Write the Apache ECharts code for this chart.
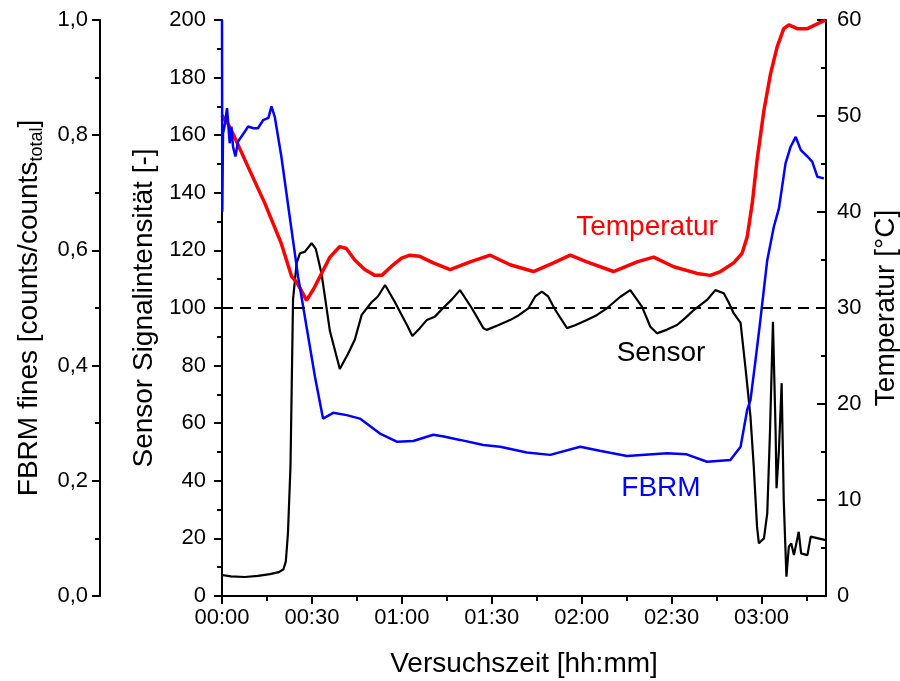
<!DOCTYPE html>
<html>
<head>
<meta charset="utf-8">
<script src="https://cdn.jsdelivr.net/npm/echarts@6/dist/echarts.min.js"></script>
<style>html,body{margin:0;padding:0;background:#fff}#c{width:900px;height:681px}</style>
</head>
<body>
<div id="c"></div>
<script>
// time in minutes since start
const sensorTime = [0,3,7.6,12,16,19,20.5,21.3,22.0,22.85,23.7,24.9,26,27.6,29.9,31.3,33.2,36,39.3,42,44.3,46.6,49.9,52,54.4,57.7,62.0,63.5,66,68.3,71,73.7,76.7,79.4,83.3,87.2,88.3,92.1,96.1,99,102.2,104.5,106.7,108.8,111.2,115.1,117.8,121.7,125,128.4,132.9,136.2,140.1,142.9,145.1,148.5,151.8,154.5,157.4,161.8,164.6,167.4,169,170.7,173.0,174.6,176.3,177.4,178.5,179.1,180.8,181.9,182.8,183.8,184.7,185.0,185.8,186.7,187.4,188.3,189.1,189.9,190.8,192.4,193.2,195.3,196.4,201.4];
const sensorValues = [7.3,6.8,6.6,7.0,7.6,8.3,9.3,12,21.8,45,103,115.6,119,119.5,122.5,120.5,112,92,78.8,84,89,97.6,102,104,108,102,93.5,90.3,93,95.8,97,99.9,103,106.2,100,93,92.4,94,95.8,97.5,99.9,104,105.7,104,99.3,93,94,95.8,97.5,99.9,103.9,106.2,100.5,93.5,91.2,92.5,94.1,96.5,99.3,102.8,106.2,105.1,102,98.2,94.8,79.6,62.3,44.9,24,18.3,20,28.7,56.5,95.2,56.6,37.4,50.7,73.9,33.3,6.7,17.1,18.3,14.2,22.3,14.8,14.2,20.6,19.4];

const tempTime = [0,0.9,2,4.2,8.7,14.3,19.8,23.2,24.9,26.5,28.2,30.6,33.2,36,39.3,41.5,44.3,47.6,51,53.3,56.4,59.9,62.7,65.8,70.5,76.1,82.8,89.5,96.1,103.9,110.6,116.2,121.7,130.6,138.5,144,150.7,158.5,162.9,166.3,170.7,173.5,175.2,176.9,178.5,180.8,183,185.2,187.4,189.1,191.9,195.3,198.6,201.4];
const tempValues = [50.1,49.6,49.2,47.8,44.7,40.9,36.7,33.3,32.7,31.8,30.8,32,33.6,35.3,36.4,36.2,35,34,33.4,33.4,34.3,35.2,35.5,35.4,34.7,34.0,34.8,35.5,34.5,33.8,34.7,35.5,34.8,33.8,34.8,35.3,34.3,33.6,33.4,33.8,34.7,35.7,37.4,40.9,45.4,50.6,54.4,57.2,59.1,59.5,59.1,59.1,59.6,60];

const fbrmTime = [0,0.1,0.33,1.0,1.67,2.57,3.14,3.68,4.48,5.35,7.58,8.69,10.5,12.0,13.7,15.5,16.5,17.6,19.8,22.6,25.4,31.0,33.7,37.1,41.6,46.0,52.7,58.3,63.8,70.5,74,79.4,87.2,92.8,101.7,109.5,119.5,126,135.1,148.5,155,161.8,169.6,173,175.2,176.3,178,179.6,181.9,184.1,185.8,188.0,189.7,191.4,193.1,195.3,196.9,198.6,200.8];
const fbrmValues = [1.0,0.667,0.803,0.82,0.847,0.786,0.815,0.78,0.763,0.789,0.806,0.815,0.812,0.812,0.826,0.83,0.85,0.832,0.763,0.658,0.554,0.381,0.308,0.318,0.314,0.308,0.282,0.268,0.269,0.28,0.277,0.271,0.262,0.259,0.249,0.245,0.259,0.252,0.243,0.248,0.246,0.233,0.236,0.259,0.323,0.34,0.41,0.479,0.583,0.641,0.673,0.751,0.78,0.797,0.774,0.763,0.754,0.728,0.725];

const referenceLevel = 100;
const xMajorTicks = [0,30,60,90,120,150,180];
const xMinorTicks = [15,45,75,105,135,165,195];
const xMax = 201.5;

const zip = (a, b) => a.map((t, i) => [t, b[i]]);
const FONT = "'Liberation Sans', Arial, sans-serif";
const fmtTime = v => { const h = Math.floor(v / 60), m = Math.round(v % 60); return String(h).padStart(2,'0') + ':' + String(m).padStart(2,'0'); };

const axisLineStyle = { color: '#000', width: 2 };
const chart = echarts.init(document.getElementById('c'), null, { renderer: 'canvas' });
chart.setOption({
  animation: false,
  backgroundColor: '#fff',
  textStyle: { fontFamily: FONT },
  grid: { left: 222, right: 74, top: 20, bottom: 85, containLabel: false, outerBoundsMode: 'none' },
  xAxis: [{
    type: 'value', min: 0, max: xMax, position: 'bottom',
    name: 'Versuchszeit [hh:mm]', nameLocation: 'middle', nameGap: 54,
    nameTextStyle: { fontSize: 28, color: '#000', fontFamily: FONT },
    axisLine: { show: true, onZero: false, lineStyle: axisLineStyle },
    axisTick: { show: true, length: 8, lineStyle: { color: '#000', width: 2 }, customValues: xMajorTicks },
    axisLabel: { show: true, fontSize: 22, color: '#000', margin: 11, fontFamily: FONT, customValues: xMajorTicks, formatter: fmtTime },
    splitLine: { show: false }
  }, {
    type: 'value', min: 0, max: xMax, position: 'bottom',
    axisLine: { show: false },
    axisTick: { show: true, length: 5, lineStyle: { color: '#000', width: 2 }, customValues: xMinorTicks },
    axisLabel: { show: false },
    splitLine: { show: false }
  }],
  yAxis: [{
    type: 'value', min: 0, max: 200, interval: 20, position: 'left',
    name: 'Sensor Signalintensität [-]', nameLocation: 'middle', nameGap: 63, nameRotate: 90,
    nameTextStyle: { fontSize: 28, color: '#000', fontFamily: FONT },
    axisLine: { show: true, onZero: false, lineStyle: axisLineStyle },
    axisTick: { show: true, length: 8, lineStyle: { color: '#000', width: 2 } },
    minorTick: { show: true, splitNumber: 2, length: 5, lineStyle: { color: '#000', width: 2 } },
    axisLabel: { fontSize: 22, color: '#000', margin: 16, fontFamily: FONT },
    splitLine: { show: false }
  }, {
    type: 'value', min: 0, max: 1, interval: 0.2, position: 'left', offset: 122,
    name: '{a|FBRM fines [counts/counts}{b|total}{a|]}', nameLocation: 'middle', nameGap: 53, nameRotate: 90,
    nameTextStyle: { color: '#000', fontFamily: FONT, rich: {
      a: { fontSize: 28, lineHeight: 34, color: '#000', fontFamily: FONT },
      b: { fontSize: 18, verticalAlign: 'bottom', color: '#000', fontFamily: FONT }
    } },
    axisLine: { show: true, onZero: false, lineStyle: axisLineStyle },
    axisTick: { show: true, length: 8, lineStyle: { color: '#000', width: 2 } },
    minorTick: { show: true, splitNumber: 2, length: 5, lineStyle: { color: '#000', width: 2 } },
    axisLabel: { fontSize: 22, color: '#000', margin: 12, fontFamily: FONT, formatter: v => v.toFixed(1).replace('.', ',') },
    splitLine: { show: false }
  }, {
    type: 'value', min: 0, max: 60, interval: 10, position: 'right',
    name: 'Temperatur [°C]', nameLocation: 'middle', nameGap: 43, nameRotate: 90,
    nameTextStyle: { fontSize: 28, color: '#000', fontFamily: FONT },
    axisLine: { show: true, onZero: false, lineStyle: axisLineStyle },
    axisTick: { show: true, inside: true, length: 9, lineStyle: { color: '#000', width: 2 } },
    minorTick: { show: true, splitNumber: 2, length: 5, lineStyle: { color: '#000', width: 2 } },
    axisLabel: { fontSize: 22, color: '#000', margin: 11, fontFamily: FONT },
    splitLine: { show: false }
  }],
  series: [{
    name: 'Sensor', type: 'line', xAxisIndex: 0, yAxisIndex: 0, data: zip(sensorTime, sensorValues),
    showSymbol: false, lineStyle: { color: '#000', width: 2.2 }, itemStyle: { color: '#000' }, z: 2,
    markLine: { silent: true, symbol: 'none', label: { show: false },
      lineStyle: { color: '#000', width: 2, type: [11, 7] }, data: [{ yAxis: referenceLevel }] }
  }, {
    name: 'Temperatur', type: 'line', xAxisIndex: 0, yAxisIndex: 2, data: zip(tempTime, tempValues),
    showSymbol: false, lineStyle: { color: '#ff0000', width: 3.5 }, itemStyle: { color: '#ff0000' }, z: 3
  }, {
    name: 'FBRM', type: 'line', xAxisIndex: 0, yAxisIndex: 1, data: zip(fbrmTime, fbrmValues),
    showSymbol: false, lineStyle: { color: '#0000ff', width: 2.5 }, itemStyle: { color: '#0000ff' }, z: 4
  }],
  graphic: [
    { type: 'text', x: 647, y: 227, style: { text: 'Temperatur', fill: '#ff0000', font: '28px ' + FONT, textAlign: 'center', textVerticalAlign: 'middle' } },
    { type: 'text', x: 661, y: 353, style: { text: 'Sensor', fill: '#000', font: '28px ' + FONT, textAlign: 'center', textVerticalAlign: 'middle' } },
    { type: 'text', x: 661, y: 488, style: { text: 'FBRM', fill: '#0000ff', font: '28px ' + FONT, textAlign: 'center', textVerticalAlign: 'middle' } }
  ]
});
</script>
</body>
</html>
